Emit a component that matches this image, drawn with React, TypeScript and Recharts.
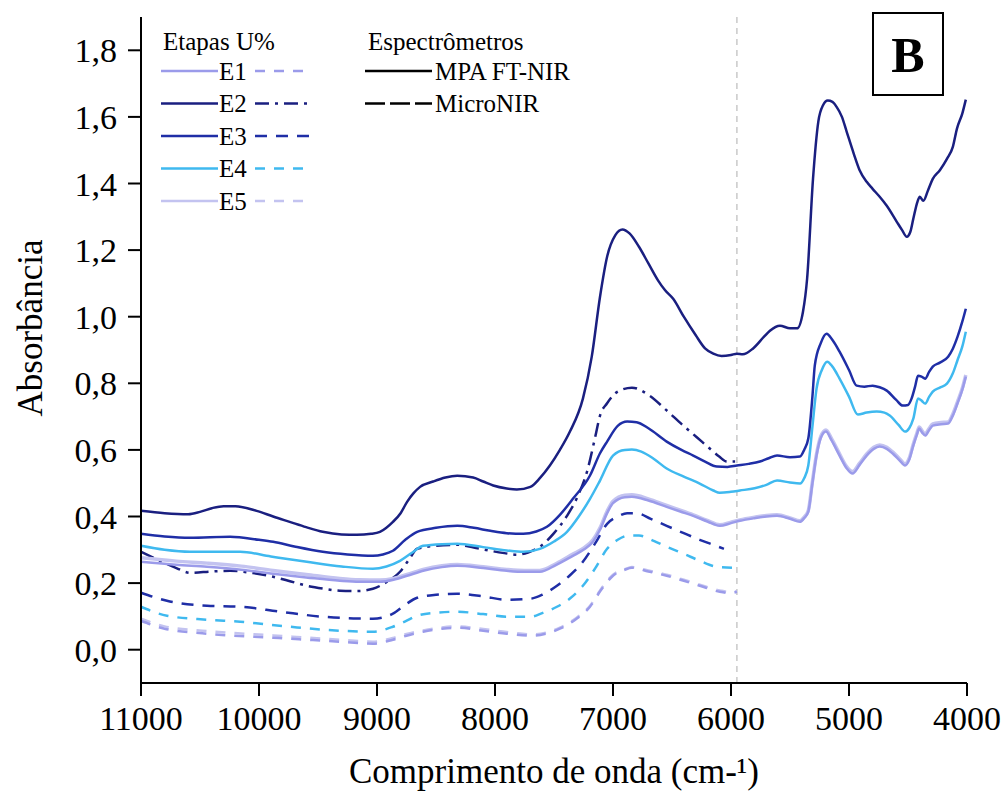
import React from "react";
import { LineChart, Line, XAxis, YAxis, ReferenceLine } from "recharts";

const FONT = '"Liberation Serif", "Times New Roman", serif';

// axis ticks
const xTicks = [11000, 10000, 9000, 8000, 7000, 6000, 5000, 4000];
const yTicks = [0, 0.2, 0.4, 0.6, 0.8, 1.0, 1.2, 1.4, 1.6, 1.8];

// stages and their look
const stages = ["E1", "E2", "E3", "E4", "E5"];
const stageColors: Record<string, string> = {
  E1: "#9b9bea",
  E2: "#1a1f80",
  E3: "#1f2ea6",
  E4: "#3fb9ef",
  E5: "#c3c3f0",
};
const microDash: Record<string, string> = {
  E1: "10 9",
  E2: "14 6 3 6",
  E3: "12 9",
  E4: "10 9",
  E5: "10 9",
};

// MPA FT-NIR spectra: [wavenumber, absorbance]
const mpaE2: [number, number][] = [
  [11000, 0.417], [10800, 0.41], [10600, 0.407], [10500, 0.414], [10400, 0.425], [10300, 0.431],
  [10200, 0.431], [10020, 0.417], [9880, 0.4], [9740, 0.384], [9600, 0.368], [9460, 0.354],
  [9300, 0.346], [9170, 0.345], [9050, 0.348], [8975, 0.354], [8865, 0.384], [8800, 0.41],
  [8745, 0.444], [8690, 0.47], [8635, 0.489], [8525, 0.505], [8420, 0.517], [8320, 0.522],
  [8185, 0.517], [8100, 0.505], [8015, 0.493], [7900, 0.484], [7815, 0.481], [7700, 0.489],
  [7620, 0.515], [7535, 0.553], [7450, 0.6], [7365, 0.655], [7255, 0.754], [7180, 0.88],
  [7110, 1.06], [7050, 1.18], [6980, 1.245], [6920, 1.262], [6860, 1.25], [6780, 1.21],
  [6700, 1.16], [6620, 1.11], [6560, 1.08], [6490, 1.054], [6400, 1.0], [6300, 0.945],
  [6220, 0.905], [6150, 0.889], [6080, 0.882], [6000, 0.885], [5950, 0.889], [5900, 0.887],
  [5815, 0.904], [5720, 0.94], [5670, 0.958], [5585, 0.973], [5500, 0.965], [5440, 0.965],
  [5390, 1.015], [5355, 1.114], [5305, 1.414], [5260, 1.586], [5220, 1.635], [5180, 1.649],
  [5140, 1.645], [5105, 1.63], [5060, 1.6], [5020, 1.556], [4960, 1.49], [4910, 1.44],
  [4850, 1.405], [4800, 1.384], [4740, 1.36], [4680, 1.333], [4595, 1.285], [4550, 1.26],
  [4510, 1.24], [4480, 1.255], [4455, 1.294], [4420, 1.345], [4400, 1.36], [4370, 1.348],
  [4330, 1.38], [4290, 1.414], [4230, 1.44], [4170, 1.474], [4120, 1.51], [4085, 1.565],
  [4040, 1.61], [4010, 1.652],
];

const mpaE3: [number, number][] = [
  [11000, 0.348], [10800, 0.34], [10585, 0.336], [10245, 0.339], [10000, 0.33], [9880, 0.324],
  [9700, 0.31], [9460, 0.294], [9250, 0.286], [9035, 0.282], [8950, 0.286], [8865, 0.297],
  [8760, 0.33], [8660, 0.354], [8500, 0.366], [8320, 0.372], [8180, 0.366], [8040, 0.357],
  [7900, 0.35], [7760, 0.348], [7650, 0.355], [7560, 0.369], [7450, 0.405], [7340, 0.453],
  [7195, 0.523], [7110, 0.59], [7050, 0.625], [6960, 0.672], [6880, 0.685], [6800, 0.683],
  [6700, 0.665], [6545, 0.625], [6420, 0.6], [6320, 0.583], [6220, 0.565], [6120, 0.55],
  [6030, 0.549], [5950, 0.553], [5850, 0.558], [5755, 0.565], [5680, 0.575], [5610, 0.583],
  [5500, 0.578], [5415, 0.58], [5380, 0.6], [5345, 0.634], [5310, 0.76], [5290, 0.853],
  [5240, 0.92], [5190, 0.949], [5140, 0.93], [5080, 0.895], [5000, 0.84], [4935, 0.793],
  [4870, 0.79], [4800, 0.793], [4740, 0.788], [4680, 0.778], [4600, 0.75], [4545, 0.733],
  [4500, 0.735], [4470, 0.754], [4440, 0.79], [4415, 0.823], [4385, 0.82], [4355, 0.814],
  [4320, 0.835], [4290, 0.85], [4230, 0.862], [4160, 0.88], [4120, 0.904], [4080, 0.94],
  [4040, 0.985], [4010, 1.024],
];

const mpaE4: [number, number][] = [
  [11000, 0.312], [10800, 0.3], [10585, 0.294], [10160, 0.294], [9900, 0.28], [9595, 0.264],
  [9300, 0.25], [9035, 0.243], [8920, 0.25], [8805, 0.267], [8700, 0.292], [8610, 0.312],
  [8450, 0.317], [8320, 0.318], [8100, 0.308], [7900, 0.298], [7760, 0.294], [7620, 0.303],
  [7500, 0.325], [7390, 0.354], [7290, 0.4], [7195, 0.453], [7110, 0.508], [7000, 0.583],
  [6900, 0.6], [6840, 0.601], [6760, 0.595], [6650, 0.572], [6545, 0.544], [6400, 0.52],
  [6265, 0.499], [6150, 0.478], [6095, 0.471], [6000, 0.474], [5925, 0.478], [5800, 0.485],
  [5700, 0.495], [5610, 0.508], [5500, 0.502], [5415, 0.499], [5380, 0.515], [5345, 0.553],
  [5310, 0.67], [5275, 0.784], [5230, 0.84], [5185, 0.865], [5140, 0.85], [5080, 0.814],
  [5000, 0.76], [4925, 0.706], [4850, 0.712], [4765, 0.715], [4700, 0.712], [4655, 0.703],
  [4580, 0.675], [4525, 0.655], [4490, 0.665], [4455, 0.694], [4415, 0.754], [4385, 0.748],
  [4355, 0.739], [4320, 0.76], [4290, 0.775], [4230, 0.787], [4170, 0.799], [4120, 0.83],
  [4080, 0.87], [4040, 0.91], [4010, 0.955],
];

const mpaE1: [number, number][] = [
  [11000, 0.264], [10700, 0.255], [10440, 0.249], [10150, 0.24], [9880, 0.228], [9600, 0.217],
  [9315, 0.207], [9150, 0.204], [8975, 0.204], [8860, 0.21], [8745, 0.222], [8600, 0.238],
  [8450, 0.248], [8320, 0.252], [8100, 0.245], [7900, 0.237], [7750, 0.234], [7620, 0.234],
  [7480, 0.255], [7340, 0.282], [7250, 0.3], [7170, 0.324], [7110, 0.36], [7050, 0.41],
  [7000, 0.44], [6900, 0.458], [6840, 0.459], [6700, 0.448], [6545, 0.429], [6430, 0.415],
  [6320, 0.402], [6200, 0.385], [6095, 0.372], [6000, 0.38], [5925, 0.387], [5800, 0.395],
  [5700, 0.4], [5610, 0.402], [5500, 0.393], [5415, 0.384], [5380, 0.395], [5345, 0.414],
  [5310, 0.5], [5275, 0.583], [5240, 0.635], [5195, 0.655], [5150, 0.63], [5080, 0.583],
  [5020, 0.545], [4970, 0.529], [4910, 0.555], [4850, 0.583], [4790, 0.603], [4740, 0.61],
  [4680, 0.603], [4630, 0.589], [4570, 0.568], [4525, 0.553], [4490, 0.57], [4455, 0.613],
  [4425, 0.645], [4405, 0.664], [4380, 0.652], [4355, 0.643], [4320, 0.66], [4290, 0.673],
  [4220, 0.677], [4160, 0.679], [4120, 0.703], [4080, 0.74], [4040, 0.78], [4010, 0.82],
];

const mpaE5: [number, number][] = [
  [11000, 0.276], [10700, 0.266], [10440, 0.26], [10150, 0.251], [9880, 0.238], [9600, 0.226],
  [9315, 0.214], [9150, 0.21], [8975, 0.209], [8860, 0.214], [8745, 0.226], [8600, 0.242],
  [8450, 0.252], [8320, 0.256], [8100, 0.249], [7900, 0.241], [7750, 0.238], [7620, 0.238],
  [7480, 0.259], [7340, 0.287], [7250, 0.305], [7170, 0.33], [7110, 0.366], [7050, 0.416],
  [7000, 0.446], [6900, 0.464], [6840, 0.465], [6700, 0.453], [6545, 0.433], [6430, 0.419],
  [6320, 0.405], [6200, 0.388], [6095, 0.375], [6000, 0.383], [5925, 0.39], [5800, 0.398],
  [5700, 0.403], [5610, 0.405], [5500, 0.396], [5415, 0.387], [5380, 0.398], [5345, 0.418],
  [5310, 0.505], [5275, 0.588], [5240, 0.64], [5195, 0.66], [5150, 0.635], [5080, 0.588],
  [5020, 0.55], [4970, 0.535], [4910, 0.56], [4850, 0.588], [4790, 0.608], [4740, 0.615],
  [4680, 0.608], [4630, 0.594], [4570, 0.573], [4525, 0.558], [4490, 0.575], [4455, 0.618],
  [4425, 0.65], [4405, 0.669], [4380, 0.657], [4355, 0.648], [4320, 0.665], [4290, 0.678],
  [4220, 0.682], [4160, 0.684], [4120, 0.708], [4080, 0.745], [4040, 0.785], [4010, 0.825],
];

// MicroNIR spectra
const microE2: [number, number][] = [
  [11000, 0.294], [10840, 0.267], [10700, 0.245], [10585, 0.231], [10400, 0.235], [10245, 0.237],
  [10050, 0.23], [9880, 0.219], [9730, 0.205], [9595, 0.192], [9450, 0.183], [9315, 0.177],
  [9170, 0.176], [9035, 0.183], [8915, 0.204], [8805, 0.234], [8730, 0.27], [8660, 0.303],
  [8500, 0.312], [8320, 0.315], [8180, 0.307], [8040, 0.297], [7920, 0.29], [7815, 0.285],
  [7720, 0.292], [7620, 0.309], [7500, 0.35], [7390, 0.402], [7300, 0.46], [7220, 0.535],
  [7150, 0.64], [7110, 0.703], [7050, 0.74], [6960, 0.775], [6840, 0.787], [6690, 0.763],
  [6550, 0.72], [6405, 0.673], [6290, 0.638], [6180, 0.604], [6100, 0.58], [6035, 0.565],
  [5965, 0.565],
];

const microE3: [number, number][] = [
  [11000, 0.171], [10780, 0.147], [10440, 0.132], [10160, 0.129], [9820, 0.114], [9460, 0.099],
  [9200, 0.094], [9035, 0.093], [8865, 0.108], [8760, 0.135], [8660, 0.156], [8500, 0.165],
  [8320, 0.168], [8100, 0.16], [7900, 0.15], [7700, 0.153], [7600, 0.165], [7475, 0.192],
  [7360, 0.225], [7255, 0.264], [7150, 0.32], [7050, 0.378], [6960, 0.4], [6880, 0.41],
  [6800, 0.41], [6680, 0.393], [6545, 0.372], [6400, 0.35], [6265, 0.33], [6150, 0.315],
  [6060, 0.303],
];

const microE4: [number, number][] = [
  [11000, 0.129], [10780, 0.102], [10440, 0.09], [10160, 0.084], [9740, 0.069], [9315, 0.057],
  [9035, 0.054], [8865, 0.069], [8760, 0.085], [8660, 0.102], [8500, 0.111], [8320, 0.114],
  [8100, 0.107], [7900, 0.099], [7700, 0.099], [7600, 0.11], [7475, 0.129], [7360, 0.155],
  [7255, 0.192], [7150, 0.245], [7050, 0.303], [6960, 0.33], [6860, 0.343], [6780, 0.343],
  [6650, 0.326], [6545, 0.309], [6400, 0.288], [6265, 0.267], [6120, 0.249], [5950, 0.246],
];

const microE1: [number, number][] = [
  [11000, 0.087], [10800, 0.063], [10440, 0.048], [9880, 0.036], [9315, 0.024], [9035, 0.018],
  [8865, 0.03], [8750, 0.042], [8610, 0.054], [8450, 0.063], [8320, 0.066], [8100, 0.057],
  [7900, 0.048], [7680, 0.042], [7550, 0.05], [7450, 0.063], [7320, 0.09], [7195, 0.129],
  [7100, 0.18], [7000, 0.222], [6900, 0.24], [6840, 0.246], [6700, 0.235], [6545, 0.222],
  [6400, 0.207], [6265, 0.192], [6095, 0.174], [6000, 0.17], [5950, 0.174],
];

const microE5: [number, number][] = [
  [11000, 0.093], [10800, 0.07], [10440, 0.056], [9880, 0.043], [9315, 0.03], [9035, 0.024],
  [8865, 0.035], [8750, 0.047], [8610, 0.058], [8450, 0.067], [8320, 0.07], [8100, 0.062],
  [7900, 0.053], [7680, 0.046], [7550, 0.053], [7450, 0.066], [7320, 0.093], [7195, 0.132],
  [7100, 0.183], [7000, 0.225], [6900, 0.242], [6840, 0.248], [6700, 0.238], [6545, 0.225],
  [6400, 0.21], [6265, 0.195], [6095, 0.178], [6000, 0.173], [5950, 0.176],
];

const splitLine = 5950;

const toPoints = (pairs: [number, number][]) => pairs.map(([w, a]) => ({ w, a }));

const microSeries = [
  { key: "E5", data: microE5 },
  { key: "E1", data: microE1 },
  { key: "E4", data: microE4 },
  { key: "E3", data: microE3 },
  { key: "E2", data: microE2 },
];
const mpaSeries = [
  { key: "E5", data: mpaE5, width: 3.5 },
  { key: "E1", data: mpaE1, width: 2.5 },
  { key: "E4", data: mpaE4, width: 2.5 },
  { key: "E3", data: mpaE3, width: 2.5 },
  { key: "E2", data: mpaE2, width: 2.5 },
];

const fmt = (v: number) => v.toFixed(1).replace(".", ",");

function Overlay() {
  const rowY = (i: number) => 71 + i * 32.5;
  return (
    <svg
      width={1003}
      height={796}
      style={{ position: "absolute", left: 0, top: 0, pointerEvents: "none" }}
      fontFamily={FONT}
    >
      <text x={163} y={50} fontSize={25} fill="#000">Etapas U%</text>
      {stages.map((s, i) => (
        <g key={s}>
          <line x1={161} x2={218} y1={rowY(i)} y2={rowY(i)} stroke={stageColors[s]} strokeWidth={2.5} />
          <text x={219} y={rowY(i) + 8.5} fontSize={25} fill="#000">{s}</text>
          <line
            x1={255}
            x2={312}
            y1={rowY(i)}
            y2={rowY(i)}
            stroke={stageColors[s]}
            strokeWidth={2.5}
            strokeDasharray={microDash[s]}
          />
        </g>
      ))}
      <text x={368} y={50} fontSize={25} fill="#000">Espectrômetros</text>
      <line x1={365} x2={432} y1={rowY(0)} y2={rowY(0)} stroke="#000" strokeWidth={2.5} />
      <text x={435} y={rowY(0) + 8.5} fontSize={25} fill="#000">MPA FT-NIR</text>
      <line x1={365} x2={432} y1={rowY(1)} y2={rowY(1)} stroke="#000" strokeWidth={2.5} strokeDasharray="20 5" />
      <text x={435} y={rowY(1) + 8.5} fontSize={25} fill="#000">MicroNIR</text>

      <rect x={873} y={13} width={70} height={82} fill="#fff" stroke="#000" strokeWidth={2} />
      <text x={908} y={72} fontSize={50} fontWeight="bold" textAnchor="middle" fill="#000">B</text>
    </svg>
  );
}

export default function App() {
  const tickStyle = { fill: "#000", fontSize: 34, fontFamily: FONT };
  return (
    <div style={{ position: "absolute", left: 0, top: 0, width: 1003, height: 796, background: "#fff" }}>
      <LineChart width={1003} height={796} margin={{ top: 17, right: 36, bottom: 0, left: 0 }}>
        <XAxis
          dataKey="w"
          type="number"
          domain={[4000, 11000]}
          reversed
          ticks={xTicks}
          interval={0}
          height={113}
          tickSize={13}
          tickMargin={10}
          axisLine={{ stroke: "#000", strokeWidth: 2 }}
          tickLine={{ stroke: "#000", strokeWidth: 2 }}
          tick={tickStyle}
          label={{
            value: "Comprimento de onda (cm-¹)",
            position: "insideBottom",
            offset: 13,
            fill: "#000",
            fontSize: 35,
            fontFamily: FONT,
          }}
        />
        <YAxis
          dataKey="a"
          type="number"
          domain={[-0.1, 1.9]}
          ticks={yTicks}
          interval={0}
          width={141}
          tickSize={13}
          tickMargin={11}
          tickFormatter={fmt}
          axisLine={{ stroke: "#000", strokeWidth: 2 }}
          tickLine={{ stroke: "#000", strokeWidth: 2 }}
          tick={tickStyle}
          label={(props: any) => {
            const vb = props.viewBox || { x: 0, y: 17, width: 141, height: 666 };
            const cx = vb.x + 30;
            const cy = vb.y + vb.height / 2 - 22;
            return (
              <text
                x={cx}
                y={cy}
                transform={`rotate(-90 ${cx} ${cy})`}
                textAnchor="middle"
                dominantBaseline="central"
                fontSize={35}
                fontFamily={FONT}
                fill="#000"
              >
                Absorbância
              </text>
            );
          }}
        />
        <ReferenceLine x={splitLine} stroke="#c9c9c9" strokeWidth={1.5} strokeDasharray="6 5" />
        {microSeries.map((s) => (
          <Line
            key={"micro-" + s.key}
            data={toPoints(s.data)}
            dataKey="a"
            type="monotone"
            stroke={stageColors[s.key]}
            strokeWidth={2.5}
            strokeDasharray={microDash[s.key]}
            dot={false}
            activeDot={false}
            isAnimationActive={false}
          />
        ))}
        {mpaSeries.map((s) => (
          <Line
            key={"mpa-" + s.key}
            data={toPoints(s.data)}
            dataKey="a"
            type="monotone"
            stroke={stageColors[s.key]}
            strokeWidth={s.width}
            dot={false}
            activeDot={false}
            isAnimationActive={false}
          />
        ))}
      </LineChart>
      <Overlay />
    </div>
  );
}
